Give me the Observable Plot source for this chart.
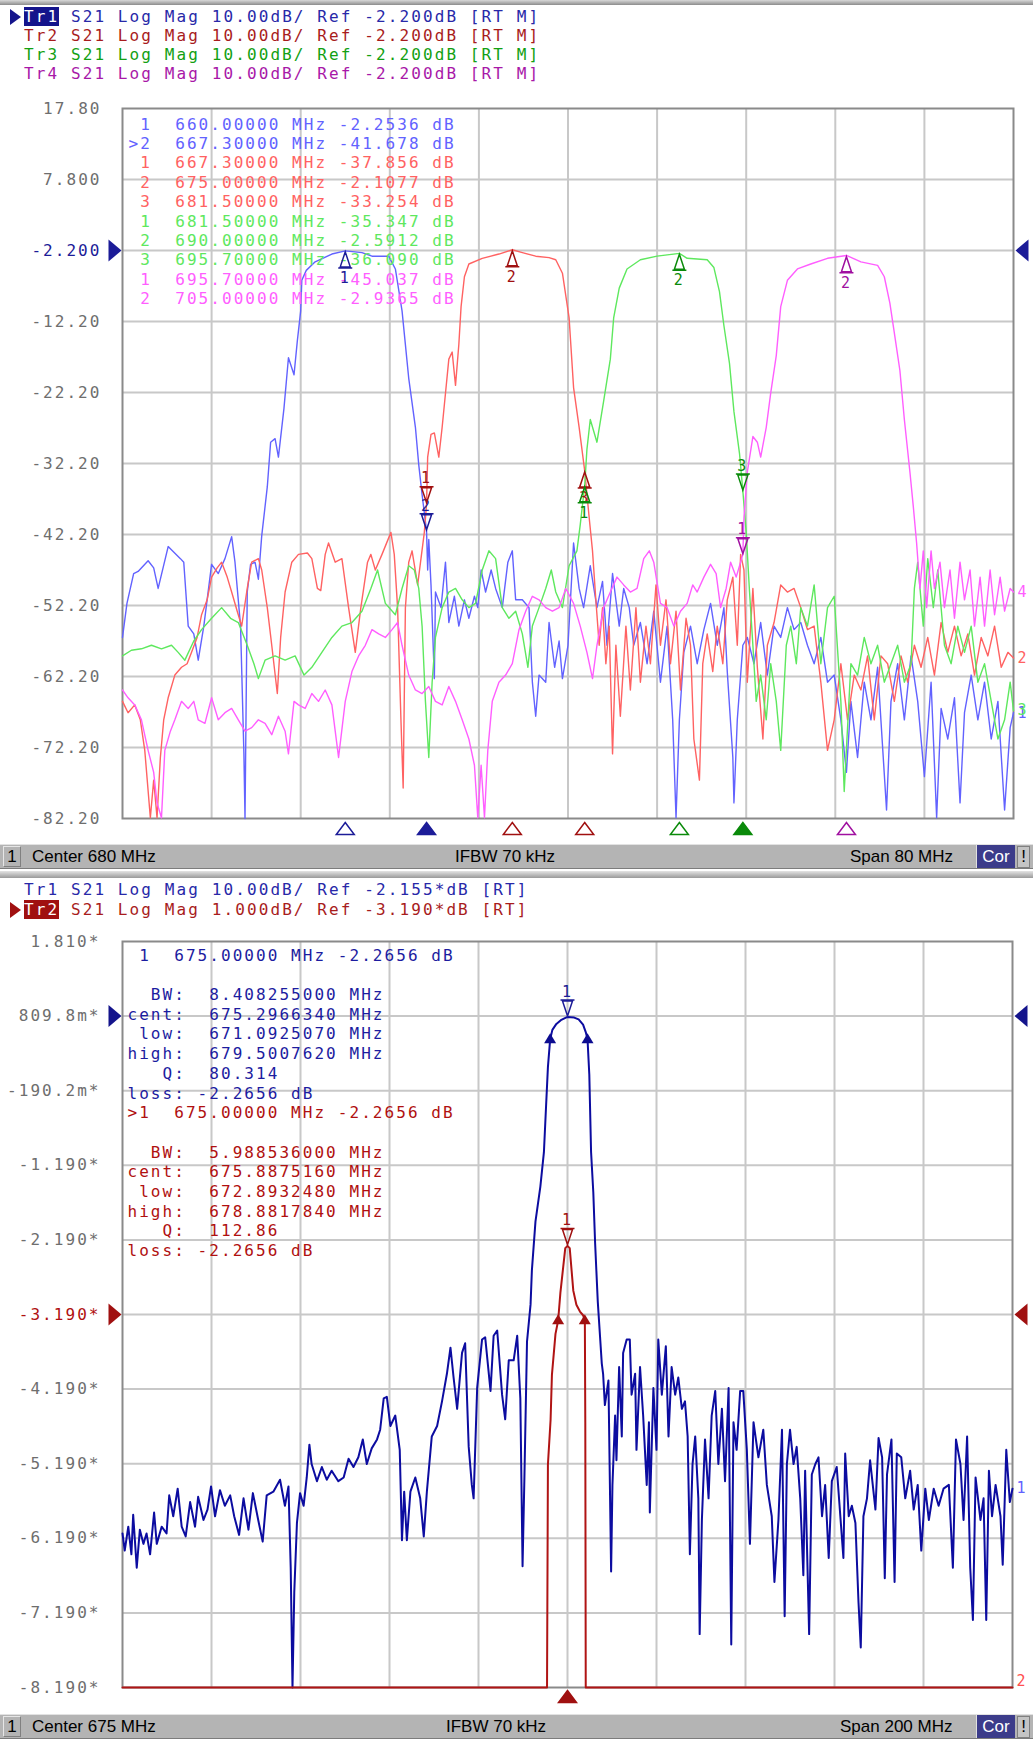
<!DOCTYPE html>
<html><head><meta charset="utf-8">
<script src="https://cdn.jsdelivr.net/npm/d3@7"></script>
<script src="https://cdn.jsdelivr.net/npm/@observablehq/plot@0.6"></script>
<style>
body{margin:0;background:#fff;width:1033px;height:1740px;position:relative;overflow:hidden;}
.topbar{position:absolute;left:0;top:0;width:1033px;height:5px;background:linear-gradient(#d8d8d8,#8c8c8c);}
.sep{position:absolute;left:0;width:1033px;height:7px;background:linear-gradient(#e4e4e4,#9a9a9a);}
.hl{position:absolute;left:24px;font-family:"DejaVu Sans Mono",monospace;font-size:16px;letter-spacing:2.1px;white-space:pre;line-height:19px;height:19px;}
.sel{color:#fff;}
.ptr{position:absolute;left:10px;width:0;height:0;border-top:8px solid transparent;border-bottom:8px solid transparent;}
.bar{position:absolute;left:0;width:1033px;height:23px;background:#b4b4b4;border-top:1px solid #e2e2e2;border-bottom:1px solid #7c7c7c;font-family:"Liberation Sans",Arial,sans-serif;font-size:17px;color:#000;}
.bar span{position:absolute;top:2px;white-space:pre;}
.bar .num{position:absolute;left:3px;top:1px;width:16px;height:19px;border-top:1px solid #e6e6e6;border-left:1px solid #e6e6e6;border-right:1px solid #808080;border-bottom:1px solid #808080;text-align:center;line-height:19px;}
.bar .cor{position:absolute;left:976px;top:0px;width:38px;height:23px;background:#3c3c8a;color:#fff;text-align:center;line-height:23px;border-left:1px solid #e0e0e0;}
.bar .ex{position:absolute;left:1017px;top:1px;width:11px;height:20px;background:#c4c4c4;border:1px solid #808080;text-align:center;line-height:20px;}
#p1,#p2{position:absolute;left:0;}
</style></head>
<body>
<div class="topbar"></div>
<div class="ptr" style="top:9px;border-left:11px solid #14148c"></div>
<div class="hl" style="top:7px;color:#2828a8"><span class="sel" style="background:#14148c">Tr1</span> S21 Log Mag 10.00dB/ Ref -2.200dB [RT M]</div>
<div class="hl" style="top:26px;color:#a81c1c">Tr2 S21 Log Mag 10.00dB/ Ref -2.200dB [RT M]</div>
<div class="hl" style="top:45px;color:#12a012">Tr3 S21 Log Mag 10.00dB/ Ref -2.200dB [RT M]</div>
<div class="hl" style="top:64px;color:#a818a8">Tr4 S21 Log Mag 10.00dB/ Ref -2.200dB [RT M]</div>
<div id="p1" style="top:90px"></div>
<div class="bar" style="top:844px"><div class="num">1</div><span style="left:32px">Center 680 MHz</span><span style="left:455px">IFBW 70 kHz</span><span style="left:850px">Span 80 MHz</span><div class="cor">Cor</div><div class="ex">!</div></div>
<div class="sep" style="top:871px"></div>
<div class="hl" style="top:880px;color:#2828a8">Tr1 S21 Log Mag 10.00dB/ Ref -2.155*dB [RT]</div>
<div class="ptr" style="top:902px;border-left:11px solid #a01010"></div>
<div class="hl" style="top:900px;color:#a81c1c"><span class="sel" style="background:#a01010">Tr2</span> S21 Log Mag 1.000dB/ Ref -3.190*dB [RT]</div>
<div id="p2" style="top:920px"></div>
<div class="bar" style="top:1714px"><div class="num">1</div><span style="left:32px">Center 675 MHz</span><span style="left:446px">IFBW 70 kHz</span><span style="left:840px">Span 200 MHz</span><div class="cor">Cor</div><div class="ex">!</div></div>
<script>
// ---------------- DATA (frequency MHz, level dB) ----------------
const topXTicks = [648,656,664,672,680,688,696,704,712];
const topYTicks = [-82.2,-72.2,-62.2,-52.2,-42.2,-32.2,-22.2,-12.2,-2.2,7.8,17.8];
const topYLabels = ["-82.20","-72.20","-62.20","-52.20","-42.20","-32.20","-22.20","-12.20","-2.200","7.800","17.80"];
const topRef = -2.2;

const tr1Top = [[640.0,-56.7],[640.4,-51.9],[641.0,-47.7],[641.4,-47.4],[642.3,-45.9],[642.8,-46.9],[643.2,-49.8],[644.1,-43.9],[645.2,-45.6],[645.5,-46.1],[645.9,-55.1],[646.4,-56.2],[646.8,-59.9],[647.3,-55.1],[648.0,-46.4],[648.6,-47.7],[649.2,-45.6],[649.8,-42.5],[650.1,-46.1],[650.6,-55.1],[650.9,-73.1],[651.0,-82.2],[651.2,-50.3],[651.5,-46.4],[651.9,-46.1],[652.2,-48.5],[652.5,-42.4],[653.0,-35.5],[653.3,-29.2],[653.7,-28.7],[654.0,-31.3],[654.5,-24.4],[654.9,-17.3],[655.4,-19.7],[655.7,-14.9],[656.0,-10.7],[656.1,-6.4],[656.5,-5.0],[657.3,-3.8],[658.8,-2.7],[660.0,-2.25],[661.5,-2.5],[662.4,-3.0],[663.9,-3.0],[664.5,-4.8],[665.1,-10.7],[665.7,-20.2],[666.3,-27.1],[666.6,-32.4],[666.9,-36.6],[667.3,-41.7],[667.4,-47.2],[667.5,-42.9],[667.7,-49.3],[668.0,-62.5],[668.1,-50.3],[668.6,-52.5],[669.0,-46.1],[669.3,-54.6],[669.8,-50.9],[670.2,-55.1],[670.7,-51.4],[671.1,-54.0],[671.6,-50.9],[671.9,-52.5],[672.2,-47.2],[672.6,-50.3],[673.1,-47.2],[673.5,-49.8],[674.1,-52.5],[674.6,-46.1],[675.0,-44.5],[675.3,-51.4],[675.9,-51.4],[676.5,-52.5],[676.8,-63.0],[677.1,-67.8],[677.4,-62.0],[678.0,-63.0],[678.3,-54.6],[678.8,-60.9],[679.2,-57.2],[679.5,-62.5],[680.0,-57.8],[680.5,-43.4],[681.0,-49.8],[681.4,-52.5],[682.0,-46.6],[682.6,-52.5],[683.1,-48.8],[683.5,-57.8],[684.0,-47.7],[684.6,-55.1],[685.0,-49.8],[685.5,-52.5],[685.9,-57.8],[686.5,-54.6],[687.1,-60.4],[687.7,-53.0],[688.3,-63.0],[688.9,-55.1],[689.4,-68.3],[689.7,-82.1],[690.0,-68.3],[690.4,-58.8],[691.0,-55.1],[691.6,-60.4],[692.2,-55.6],[692.8,-51.9],[693.4,-57.8],[694.0,-52.5],[694.3,-61.5],[694.8,-73.6],[694.9,-80.0],[695.2,-68.3],[695.7,-57.8],[696.1,-56.7],[696.7,-60.4],[697.3,-54.6],[697.9,-62.0],[698.5,-55.1],[699.1,-56.7],[699.7,-52.5],[700.3,-55.6],[700.9,-54.6],[701.5,-57.8],[702.1,-60.4],[702.7,-56.7],[703.3,-63.0],[703.9,-62.0],[704.5,-68.3],[705.0,-75.7],[705.4,-65.7],[706.0,-73.6],[706.6,-63.0],[707.2,-68.3],[707.8,-60.9],[708.6,-81.0],[709.0,-65.7],[709.6,-60.4],[710.2,-68.3],[710.8,-59.3],[711.4,-65.7],[712.0,-76.3],[712.6,-63.0],[713.1,-82.1],[713.5,-66.7],[714.1,-71.0],[714.7,-65.2],[715.2,-80.0],[715.6,-67.3],[716.2,-62.0],[716.8,-68.3],[717.4,-63.0],[718.0,-71.0],[718.6,-65.7],[719.2,-81.0],[719.7,-69.4],[720.0,-67.3]];

const tr2Top = [[640.0,-65.7],[640.5,-67.3],[641.1,-66.2],[641.6,-68.3],[642.0,-72.6],[642.5,-82.1],[642.8,-76.8],[643.1,-82.1],[643.4,-73.6],[643.7,-68.3],[644.1,-65.2],[644.7,-62.0],[645.3,-60.9],[645.8,-60.4],[646.2,-58.8],[646.7,-56.7],[647.1,-53.5],[647.6,-51.4],[648.0,-48.2],[648.5,-46.9],[648.9,-46.1],[649.4,-48.2],[649.8,-50.3],[650.3,-53.0],[650.7,-55.1],[651.2,-49.8],[651.6,-46.1],[652.2,-45.6],[652.5,-47.2],[653.0,-52.5],[653.4,-57.8],[653.9,-64.6],[654.2,-56.7],[654.6,-50.3],[655.2,-46.1],[655.8,-45.0],[656.6,-44.8],[657.0,-45.6],[657.5,-49.8],[657.8,-50.1],[658.2,-45.0],[658.5,-43.4],[659.1,-46.1],[659.7,-45.6],[660.3,-52.5],[660.9,-58.8],[661.4,-52.5],[662.0,-46.1],[662.3,-45.0],[662.7,-47.2],[663.3,-45.0],[664.1,-41.9],[664.4,-45.0],[664.7,-52.5],[665.0,-68.3],[665.2,-77.9],[665.4,-52.5],[665.7,-46.1],[666.0,-44.5],[666.5,-49.3],[666.8,-45.6],[667.1,-41.9],[667.3,-37.9],[667.4,-31.3],[667.7,-28.1],[668.0,-27.9],[668.4,-31.3],[668.7,-27.1],[669.0,-22.3],[669.3,-17.5],[669.6,-16.5],[669.9,-21.2],[670.2,-15.4],[670.4,-10.1],[670.7,-5.9],[671.1,-4.1],[672.3,-3.3],[673.8,-2.7],[675.0,-2.1],[675.9,-2.5],[677.1,-3.0],[678.3,-3.2],[678.9,-3.5],[679.5,-5.4],[680.1,-11.7],[680.5,-21.5],[681.0,-27.1],[681.5,-33.25],[681.9,-39.8],[682.2,-44.5],[682.5,-51.4],[682.8,-57.8],[683.1,-52.5],[683.4,-60.4],[683.7,-55.1],[684.0,-73.1],[684.3,-57.8],[684.7,-67.8],[685.2,-55.1],[685.6,-64.1],[686.1,-52.5],[686.5,-63.0],[687.0,-55.1],[687.4,-60.4],[687.9,-49.3],[688.3,-57.8],[688.8,-51.4],[689.2,-60.4],[689.7,-53.0],[690.1,-64.1],[690.6,-54.0],[691.0,-57.8],[691.3,-71.0],[691.8,-76.8],[692.1,-60.4],[692.5,-56.2],[693.0,-61.5],[693.4,-55.1],[693.9,-60.4],[694.3,-51.4],[694.8,-48.2],[695.2,-57.8],[695.5,-45.0],[695.8,-47.2],[696.1,-63.0],[696.6,-49.8],[697.0,-60.9],[697.5,-71.0],[697.9,-57.8],[698.5,-54.6],[699.1,-49.3],[699.7,-50.3],[700.3,-49.8],[700.9,-52.5],[701.5,-55.6],[702.1,-55.1],[702.7,-63.0],[703.3,-72.6],[703.9,-68.3],[704.5,-60.4],[705.1,-68.3],[705.7,-62.0],[706.3,-64.1],[706.9,-59.3],[707.5,-68.3],[708.1,-59.3],[708.7,-60.4],[709.3,-65.7],[709.9,-59.3],[710.5,-63.0],[711.1,-57.8],[711.7,-60.9],[712.3,-56.7],[712.9,-62.0],[713.5,-54.6],[714.1,-58.8],[714.7,-55.1],[715.3,-59.3],[715.9,-56.2],[716.5,-62.0],[717.1,-56.7],[717.7,-59.3],[718.3,-55.1],[718.9,-60.9],[719.5,-58.8],[720.0,-59.6]];

const tr3Top = [[640.0,-59.3],[640.8,-58.5],[641.7,-58.3],[642.6,-57.8],[643.5,-58.3],[644.4,-57.8],[645.0,-58.8],[645.6,-59.9],[646.4,-57.2],[647.1,-55.6],[648.0,-54.0],[648.9,-52.5],[649.7,-54.0],[650.4,-54.6],[651.2,-57.8],[651.8,-60.4],[652.2,-62.5],[652.8,-59.9],[653.7,-59.3],[654.6,-59.9],[655.5,-59.3],[656.3,-62.0],[657.0,-60.9],[657.9,-58.8],[658.8,-56.7],[659.7,-55.1],[660.6,-54.6],[661.5,-53.0],[662.3,-49.8],[662.9,-47.2],[663.6,-51.9],[664.5,-53.5],[665.1,-49.8],[665.7,-46.6],[666.2,-47.2],[666.6,-49.8],[666.9,-55.1],[667.2,-65.7],[667.5,-73.6],[667.8,-63.0],[668.1,-56.7],[668.7,-52.5],[669.3,-50.3],[669.9,-49.8],[670.5,-51.4],[671.1,-52.5],[671.7,-51.9],[672.3,-47.2],[672.9,-44.5],[673.5,-45.6],[674.1,-52.5],[674.7,-54.0],[675.3,-53.0],[675.9,-56.2],[676.4,-60.9],[676.8,-55.1],[677.4,-52.5],[678.0,-49.8],[678.5,-47.2],[678.9,-50.3],[679.5,-52.5],[680.1,-46.6],[680.8,-44.5],[681.1,-40.8],[681.5,-35.3],[681.7,-30.2],[682.0,-26.0],[682.6,-29.2],[683.2,-23.4],[683.8,-17.5],[684.1,-11.7],[684.6,-7.5],[685.3,-4.8],[686.5,-3.5],[688.0,-3.0],[690.0,-2.6],[690.7,-3.3],[692.5,-3.5],[693.1,-4.6],[693.6,-8.0],[694.0,-12.8],[694.5,-18.1],[694.9,-24.9],[695.4,-30.8],[695.7,-36.1],[696.0,-41.9],[696.3,-50.3],[696.6,-57.8],[696.9,-65.7],[697.3,-62.0],[697.8,-68.3],[698.2,-60.4],[698.7,-65.7],[699.1,-72.6],[699.6,-57.8],[700.0,-55.1],[700.5,-60.4],[700.9,-52.5],[701.5,-55.1],[702.1,-49.3],[702.7,-60.4],[703.3,-52.5],[703.9,-50.9],[704.5,-65.7],[704.8,-78.4],[705.4,-60.4],[706.0,-62.0],[706.6,-56.7],[707.2,-60.4],[707.8,-57.8],[708.4,-63.0],[709.0,-60.4],[709.6,-57.8],[710.2,-63.0],[710.8,-60.4],[711.1,-49.8],[711.4,-46.1],[711.9,-55.1],[712.3,-45.6],[712.8,-52.5],[713.2,-47.2],[713.8,-57.8],[714.4,-60.4],[715.0,-55.1],[715.6,-58.8],[716.2,-55.1],[716.8,-63.0],[717.4,-60.4],[718.0,-65.7],[718.6,-71.0],[719.2,-68.3],[719.7,-63.0],[720.0,-67.0]];

const tr4Top = [[640.0,-64.1],[640.5,-65.2],[641.1,-66.2],[641.7,-68.3],[642.3,-72.6],[642.8,-75.7],[643.1,-80.0],[643.5,-82.1],[643.8,-72.6],[644.3,-69.9],[644.7,-68.3],[645.3,-65.7],[645.9,-66.7],[646.4,-65.7],[646.8,-68.3],[647.4,-68.8],[648.0,-65.2],[648.6,-68.3],[649.2,-67.3],[649.8,-66.7],[650.4,-68.3],[651.0,-69.9],[651.6,-69.4],[652.2,-68.3],[652.8,-68.8],[653.4,-70.4],[654.0,-67.8],[654.6,-69.9],[654.9,-73.1],[655.4,-65.7],[655.8,-66.2],[656.4,-66.7],[657.0,-64.6],[657.6,-65.7],[658.2,-64.1],[658.8,-66.2],[659.4,-73.6],[660.0,-65.7],[660.6,-61.5],[661.2,-59.3],[661.8,-57.8],[662.4,-55.6],[663.0,-56.2],[663.6,-56.7],[664.2,-55.6],[664.7,-54.6],[665.1,-57.8],[665.7,-62.0],[666.3,-64.1],[666.9,-64.6],[667.5,-63.6],[668.1,-65.7],[668.7,-66.2],[669.3,-63.6],[669.9,-65.7],[670.5,-68.3],[671.1,-71.0],[671.6,-74.7],[671.9,-82.1],[672.2,-74.7],[672.5,-82.1],[672.8,-72.6],[673.2,-65.7],[673.8,-63.0],[674.4,-62.0],[675.0,-60.4],[675.6,-55.6],[676.2,-53.0],[676.8,-50.9],[677.4,-51.4],[678.0,-52.5],[678.6,-53.0],[679.2,-52.5],[679.8,-49.8],[680.5,-51.9],[681.1,-55.1],[681.7,-58.8],[682.2,-62.5],[682.6,-57.8],[683.2,-52.5],[683.8,-50.3],[684.4,-48.2],[685.0,-49.3],[685.6,-50.3],[686.2,-49.8],[686.8,-45.6],[687.3,-44.5],[687.7,-46.1],[688.3,-51.9],[688.9,-52.5],[689.5,-55.1],[690.1,-53.0],[690.7,-51.9],[691.2,-49.3],[691.6,-50.3],[692.2,-48.2],[692.8,-46.4],[693.3,-47.7],[693.7,-52.5],[694.2,-49.8],[694.6,-46.1],[695.1,-48.2],[695.7,-45.0],[695.8,-39.8],[696.1,-33.4],[696.6,-28.4],[697.0,-29.2],[697.3,-31.3],[697.8,-27.1],[698.2,-22.3],[698.7,-17.0],[699.1,-10.1],[699.7,-6.4],[700.6,-4.8],[701.8,-4.1],[703.3,-3.3],[705.0,-2.9],[706.3,-3.8],[707.8,-4.3],[708.4,-5.9],[708.9,-9.6],[709.3,-13.8],[709.8,-19.1],[710.2,-26.0],[710.7,-33.4],[711.0,-38.2],[711.3,-43.4],[711.6,-49.8],[711.9,-44.5],[712.2,-52.5],[712.6,-44.5],[712.9,-49.8],[713.4,-46.1],[713.8,-52.5],[714.3,-47.2],[714.7,-54.0],[715.2,-46.1],[715.6,-51.4],[716.1,-47.2],[716.5,-55.1],[717.0,-48.2],[717.4,-55.1],[717.9,-47.2],[718.3,-53.5],[718.8,-48.2],[719.2,-53.0],[719.7,-49.8],[720.0,-50.3]];

// markers: trace, number, freq, level, direction
const topMarkers = [
  {tr:1,n:"1",f:660.0,v:-2.2536,up:true},{tr:1,n:"2",f:667.3,v:-41.678,up:false},
  {tr:2,n:"1",f:667.3,v:-37.856,up:false},{tr:2,n:"2",f:675.0,v:-2.1077,up:true},{tr:2,n:"3",f:681.5,v:-33.254,up:true},
  {tr:3,n:"1",f:681.5,v:-35.347,up:true},{tr:3,n:"2",f:690.0,v:-2.5912,up:true},{tr:3,n:"3",f:695.7,v:-36.090,up:false},
  {tr:4,n:"1",f:695.7,v:-45.037,up:false},{tr:4,n:"2",f:705.0,v:-2.9365,up:true}];
const topStim = [{tr:1,f:660.0,filled:false},{tr:1,f:667.3,filled:true},{tr:2,f:675.0,filled:false},{tr:2,f:681.5,filled:false},{tr:3,f:690.0,filled:false},{tr:3,f:695.7,filled:true},{tr:4,f:705.0,filled:false}];
const topTable = [
  {tr:1,t:" 1  660.00000 MHz -2.2536 dB"},{tr:1,t:">2  667.30000 MHz -41.678 dB"},
  {tr:2,t:" 1  667.30000 MHz -37.856 dB"},{tr:2,t:" 2  675.00000 MHz -2.1077 dB"},{tr:2,t:" 3  681.50000 MHz -33.254 dB"},
  {tr:3,t:" 1  681.50000 MHz -35.347 dB"},{tr:3,t:" 2  690.00000 MHz -2.5912 dB"},{tr:3,t:" 3  695.70000 MHz -36.090 dB"},
  {tr:4,t:" 1  695.70000 MHz -45.037 dB"},{tr:4,t:" 2  705.00000 MHz -2.9365 dB"}];

// bottom panel
const botXTicks = [595,615,635,655,675,695,715,735,755];
const botDivs = [0,1,2,3,4,5,6,7,8,9,10];
const botYLabels = ["-8.190*","-7.190*","-6.190*","-5.190*","-4.190*","-3.190*","-2.190*","-1.190*","-190.2m*","809.8m*","1.810*"];
const tr1Scale = {perDiv:10, ref:-2.155, refDiv:9};
const tr2Scale = {perDiv:1, ref:-3.190, refDiv:5};

const tr1Bot = [[575.0,-71.5],[575.5,-73.8],[576.3,-70.6],[577.0,-74.3],[577.4,-69.0],[578.2,-76.1],[578.9,-71.0],[579.7,-72.9],[580.4,-71.5],[581.2,-74.3],[582.1,-68.7],[582.7,-72.9],[583.8,-70.6],[584.9,-71.5],[585.5,-66.4],[586.4,-69.2],[587.4,-65.5],[588.3,-70.6],[589.2,-71.9],[590.2,-67.3],[591.3,-70.6],[592.0,-66.6],[593.2,-69.7],[594.1,-68.3],[594.9,-65.2],[595.8,-69.2],[596.9,-65.7],[598.0,-67.8],[599.2,-66.4],[600.1,-69.2],[601.2,-71.7],[602.2,-66.8],[603.3,-71.0],[604.3,-66.1],[605.5,-69.7],[606.5,-72.6],[607.4,-66.4],[608.9,-65.9],[610.4,-64.3],[611.5,-67.8],[612.3,-65.2],[612.8,-76.1],[613.2,-92.2],[613.6,-79.4],[614.2,-70.1],[614.9,-66.1],[615.7,-67.8],[616.4,-64.0],[617.0,-59.6],[617.5,-62.2],[618.7,-64.5],[619.8,-62.6],[620.9,-64.3],[622.0,-63.1],[623.5,-64.5],[624.7,-64.0],[625.8,-61.5],[626.9,-62.6],[628.0,-61.3],[629.0,-58.9],[629.9,-62.2],[631.0,-60.1],[632.2,-58.9],[632.9,-57.6],[633.7,-53.4],[634.4,-53.2],[635.2,-57.1],[636.3,-55.7],[637.3,-60.3],[637.8,-72.4],[638.3,-65.9],[638.9,-72.4],[639.7,-65.9],[640.8,-64.0],[641.9,-66.8],[642.7,-71.9],[643.4,-65.9],[644.5,-58.5],[645.7,-57.1],[646.8,-53.8],[647.9,-50.1],[648.7,-46.6],[649.4,-50.6],[650.2,-54.8],[651.3,-47.3],[652.0,-46.0],[652.8,-59.9],[653.5,-65.0],[653.9,-66.8],[654.7,-52.0],[655.8,-45.5],[656.5,-45.2],[657.7,-52.4],[658.4,-45.0],[659.2,-44.3],[660.3,-52.9],[661.0,-56.2],[661.8,-48.3],[662.9,-48.3],[663.7,-45.0],[664.4,-53.4],[664.9,-75.9],[665.3,-64.5],[665.9,-45.8],[666.7,-40.8],[667.0,-36.2],[667.8,-29.7],[668.9,-25.0],[669.7,-20.4],[670.2,-14.0],[670.6,-9.0],[671.1,-5.27],[671.6,-4.0],[672.5,-3.2],[673.5,-2.7],[675.0,-2.27],[676.5,-2.35],[677.5,-2.6],[678.5,-3.3],[679.1,-4.3],[679.5,-5.27],[679.9,-10.0],[680.3,-20.4],[680.8,-25.8],[681.2,-32.5],[681.8,-40.4],[682.3,-45.0],[682.7,-48.7],[683.0,-50.1],[683.4,-54.3],[684.2,-51.0],[684.8,-76.6],[685.1,-65.0],[685.7,-55.7],[686.0,-61.7],[686.6,-49.2],[687.2,-58.5],[687.5,-47.3],[688.3,-45.5],[689.0,-45.5],[689.4,-52.9],[690.2,-50.1],[690.5,-60.3],[691.3,-49.2],[692.0,-55.7],[692.8,-65.0],[693.3,-56.6],[693.5,-68.7],[694.3,-52.0],[695.0,-60.3],[695.4,-45.5],[696.2,-52.9],[697.1,-46.4],[697.7,-58.5],[698.4,-49.2],[699.2,-52.9],[699.9,-50.6],[700.7,-54.8],[701.4,-53.8],[702.0,-58.5],[702.5,-74.3],[703.1,-62.2],[703.7,-58.5],[704.4,-66.8],[704.7,-85.0],[705.2,-69.7],[705.9,-58.9],[706.7,-66.8],[707.4,-55.7],[708.2,-52.4],[708.9,-62.2],[709.7,-54.8],[710.4,-64.5],[711.2,-52.0],[711.8,-86.4],[712.3,-56.6],[713.0,-60.3],[713.8,-52.4],[714.5,-52.4],[715.3,-60.3],[716.0,-72.9],[716.8,-56.6],[717.9,-61.3],[719.0,-57.6],[719.8,-65.0],[720.9,-69.2],[721.5,-78.0],[722.4,-69.7],[723.2,-57.6],[723.8,-82.6],[724.3,-62.2],[725.0,-57.6],[725.8,-62.2],[726.5,-59.9],[727.3,-66.8],[728.0,-77.1],[728.4,-63.1],[729.3,-85.0],[729.9,-63.6],[730.7,-62.2],[731.4,-61.3],[732.2,-69.2],[732.9,-65.0],[733.7,-74.8],[734.4,-64.5],[735.5,-62.6],[737.0,-74.8],[737.4,-60.8],[738.2,-69.2],[738.9,-67.8],[739.7,-70.1],[740.4,-80.8],[740.9,-86.8],[741.5,-69.2],[742.3,-66.8],[743.0,-61.7],[744.2,-68.3],[744.9,-58.7],[745.7,-61.3],[746.3,-77.5],[746.8,-63.6],[747.8,-58.9],[748.5,-78.0],[749.0,-60.8],[750.0,-61.3],[750.9,-66.8],[752.0,-63.1],[752.8,-68.3],[753.7,-65.0],[754.5,-73.8],[755.4,-65.5],[756.2,-69.7],[757.3,-65.5],[758.4,-67.8],[759.5,-65.5],[760.7,-65.0],[761.6,-76.1],[762.3,-58.9],[763.3,-62.2],[764.0,-69.7],[764.8,-58.5],[765.5,-76.1],[766.1,-83.1],[766.7,-64.0],[767.8,-69.7],[768.5,-66.8],[769.1,-83.1],[769.7,-63.1],[770.4,-69.2],[771.2,-65.0],[772.3,-69.2],[772.8,-75.7],[773.6,-60.3],[774.4,-67.3],[775.0,-65.5]];

const tr2Bot = [[575.0,-8.19],[670.4,-8.19],[670.6,-5.2],[671.2,-4.6],[671.5,-4.0],[672.3,-3.45],[672.9,-3.27],[673.4,-2.9],[674.5,-2.3],[675.0,-2.27],[675.5,-2.3],[676.3,-2.87],[677.0,-3.06],[677.8,-3.15],[678.5,-3.2],[678.9,-3.27],[679.0,-4.64],[679.1,-8.19],[775.0,-8.19]];

const botMarkers = [{tr:1,n:"1",f:675.0,v:-2.2656},{tr:2,n:"1",f:675.0,v:-2.2656}];
const botBW = [{tr:1,f:671.0925,v:-5.2656},{tr:1,f:679.5008,v:-5.2656},{tr:2,f:672.8932,v:-3.2656},{tr:2,f:678.8818,v:-3.2656}];
const botTable = [
  {tr:1,t:" 1  675.00000 MHz -2.2656 dB"},{tr:1,t:""},{tr:1,t:"  BW:  8.408255000 MHz"},{tr:1,t:"cent:  675.2966340 MHz"},{tr:1,t:" low:  671.0925070 MHz"},{tr:1,t:"high:  679.5007620 MHz"},{tr:1,t:"   Q:  80.314"},{tr:1,t:"loss: -2.2656 dB"},
  {tr:2,t:">1  675.00000 MHz -2.2656 dB"},{tr:2,t:""},{tr:2,t:"  BW:  5.988536000 MHz"},{tr:2,t:"cent:  675.8875160 MHz"},{tr:2,t:" low:  672.8932480 MHz"},{tr:2,t:"high:  678.8817840 MHz"},{tr:2,t:"   Q:  112.86"},{tr:2,t:"loss: -2.2656 dB"}];

// ---------------- STYLE ----------------
const light = {1:"#6262ff",2:"#ff6262",3:"#5ee85e",4:"#ff5eff"};
const dark = {1:"#1c1c98",2:"#a01010",3:"#0a8a0a",4:"#a010a0"};
const botCol = {1:"#0c0ca0",2:"#b01414"};
const gridC = "#c8c8c8", frameC = "#8a8a8a", labC = "#6e6e6e";

const sym = (pts, extra) => ({draw(c){ c.moveTo(pts[0][0],pts[0][1]); for (const p of pts.slice(1)) c.lineTo(p[0],p[1]); c.closePath(); if (extra) { c.moveTo(extra[0][0],extra[0][1]); c.lineTo(extra[1][0],extra[1][1]); } }});
const pinUp = sym([[0,1],[5,16],[-5,16]], [[-7,17],[7,17]]);
const pinDown = sym([[0,-1],[5,-16],[-5,-16]], [[-7,-17],[7,-17]]);
const stimTri = sym([[0,-6],[9,6],[-9,6]]);
const refR = sym([[-6,-11],[7,0],[-6,11]]);
const refL = sym([[6,-11],[-7,0],[6,11]]);
const bwTri = sym([[0,-6],[6,4],[-6,4]]);

const svgStyle = {fontFamily:"'DejaVu Sans Mono', monospace", fontSize:"16px", letterSpacing:"2.05px", overflow:"visible", background:"transparent"};

// ---------------- TOP PLOT ----------------
const topMarks = [
  Plot.ruleX(topXTicks, {stroke:gridC, strokeWidth:2}),
  Plot.ruleY(topYTicks.slice(1,-1), {stroke:gridC, strokeWidth:2}),
  Plot.frame({stroke:frameC, strokeWidth:2})
];
[[tr1Top,1],[tr2Top,2],[tr3Top,3],[tr4Top,4]].forEach(([pts,k]) => {
  topMarks.push(Plot.line(pts, {x:p=>p[0], y:p=>p[1], stroke:light[k], strokeWidth:1.4}));
});
topTable.forEach((r,i) => topMarks.push(Plot.text([r], {text:"t", frameAnchor:"top-left", textAnchor:"start", lineAnchor:"middle", dx:6, dy:16 + i*19.4, fill:light[r.tr]})));
topMarks.push(Plot.text(topYTicks.map((v,i)=>({v,l:topYLabels[i]})).filter(d=>d.v!==topRef), {y:"v", text:"l", frameAnchor:"left", textAnchor:"end", dx:-21, fill:labC}));
topMarks.push(Plot.text([{v:topRef,l:topYLabels[8]}], {y:"v", text:"l", frameAnchor:"left", textAnchor:"end", dx:-21, fill:dark[1]}));
topMarks.push(Plot.dot([topRef], {y:d=>d, frameAnchor:"left", dx:-8, symbol:refR, fill:dark[1], r:5}));
topMarks.push(Plot.dot([topRef], {y:d=>d, frameAnchor:"right", dx:9, symbol:refL, fill:dark[1], r:5}));
topMarkers.forEach(m => {
  topMarks.push(Plot.dot([m], {x:"f", y:"v", symbol:m.up?pinUp:pinDown, stroke:dark[m.tr], fill:"none", strokeWidth:1.5, r:5}));
  topMarks.push(Plot.text([m], {x:"f", y:"v", text:"n", dy:m.up?27:-25, fill:dark[m.tr], fontSize:15}));
});
topStim.forEach(s => topMarks.push(Plot.dot([s], {x:"f", frameAnchor:"bottom", dy:10, symbol:stimTri, stroke:dark[s.tr], fill:s.filled?dark[s.tr]:"white", strokeWidth:1.5, r:5})));
[[tr1Top,1],[tr2Top,2],[tr3Top,3],[tr4Top,4]].forEach(([pts,k]) => {
  const last = pts[pts.length-1];
  topMarks.push(Plot.text([last], {x:p=>p[0], y:p=>p[1], text:()=>String(k), dx:4, textAnchor:"start", fill:light[k], fontSize:15}));
});
const topPlot = Plot.plot({
  width:1033, height:752, marginTop:18, marginBottom:24, marginLeft:122, marginRight:20,
  x:{domain:[640,720], axis:null},
  y:{domain:[-82.2,17.8], axis:null, clamp:true},
  style:svgStyle,
  marks:topMarks
});
document.getElementById("p1").appendChild(topPlot);

// ---------------- BOTTOM PLOT ----------------
const toDiv = (s) => (v) => s.refDiv + (v - s.ref)/s.perDiv;
const d1 = toDiv(tr1Scale), d2 = toDiv(tr2Scale);
const botMarks = [
  Plot.ruleX(botXTicks, {stroke:gridC, strokeWidth:2}),
  Plot.ruleY(botDivs.slice(1,-1), {stroke:gridC, strokeWidth:2}),
  Plot.frame({stroke:frameC, strokeWidth:2}),
  Plot.line(tr1Bot, {x:p=>p[0], y:p=>d1(p[1]), stroke:botCol[1], strokeWidth:2}),
  Plot.line(tr2Bot, {x:p=>p[0], y:p=>d2(p[1]), stroke:botCol[2], strokeWidth:2})
];
botTable.forEach((r,i) => botMarks.push(Plot.text([r], {text:"t", frameAnchor:"top-left", textAnchor:"start", lineAnchor:"middle", dx:5, dy:14 + i*19.7, fill:r.tr===1?"#1c1ca0":"#b01010"})));
botMarks.push(Plot.text(botDivs.map((d,i)=>({d,l:botYLabels[i]})).filter(o=>o.d!==tr2Scale.refDiv), {y:"d", text:"l", frameAnchor:"left", textAnchor:"end", dx:-22, fill:labC}));
botMarks.push(Plot.text([{d:tr2Scale.refDiv,l:botYLabels[5]}], {y:"d", text:"l", frameAnchor:"left", textAnchor:"end", dx:-22, fill:"#b01010"}));
[[tr1Scale,"#14148c"],[tr2Scale,"#a01010"]].forEach(([s,c]) => {
  botMarks.push(Plot.dot([s.refDiv], {y:d=>d, frameAnchor:"left", dx:-8, symbol:refR, fill:c, r:5}));
  botMarks.push(Plot.dot([s.refDiv], {y:d=>d, frameAnchor:"right", dx:9, symbol:refL, fill:c, r:5}));
});
botBW.forEach(b => botMarks.push(Plot.dot([b], {x:"f", y:d=>(b.tr===1?d1:d2)(d.v), symbol:bwTri, fill:b.tr===1?"#0c0c90":"#a01010", r:4})));
botMarkers.forEach(m => {
  const f = m.tr===1?d1:d2, c = m.tr===1?"#1c1c98":"#a01010";
  botMarks.push(Plot.dot([m], {x:"f", y:d=>f(d.v), symbol:pinDown, stroke:c, fill:"none", strokeWidth:1.5, r:5}));
  botMarks.push(Plot.text([m], {x:"f", y:d=>f(d.v), text:"n", dy:-25, fill:c, fontSize:15}));
});
botMarks.push(Plot.dot([botMarkers[1]], {x:"f", frameAnchor:"bottom", dy:9, symbol:stimTri, fill:"#a01010", stroke:"#a01010", r:5}));
botMarks.push(Plot.text([tr1Bot[tr1Bot.length-1]], {x:p=>p[0], y:p=>d1(p[1]), text:()=>"1", dx:4, textAnchor:"start", fill:"#6262ff", fontSize:15}));
botMarks.push(Plot.text([tr2Bot[tr2Bot.length-1]], {x:p=>p[0], y:p=>d2(p[1]), text:()=>"2", dx:4, dy:-6, textAnchor:"start", fill:"#ff5050", fontSize:15}));
const botPlot = Plot.plot({
  width:1033, height:792, marginTop:21, marginBottom:25, marginLeft:122, marginRight:21,
  x:{domain:[575,775], axis:null},
  y:{domain:[0,10], axis:null, clamp:true},
  style:svgStyle,
  marks:botMarks
});
document.getElementById("p2").appendChild(botPlot);
</script>
</body></html>
